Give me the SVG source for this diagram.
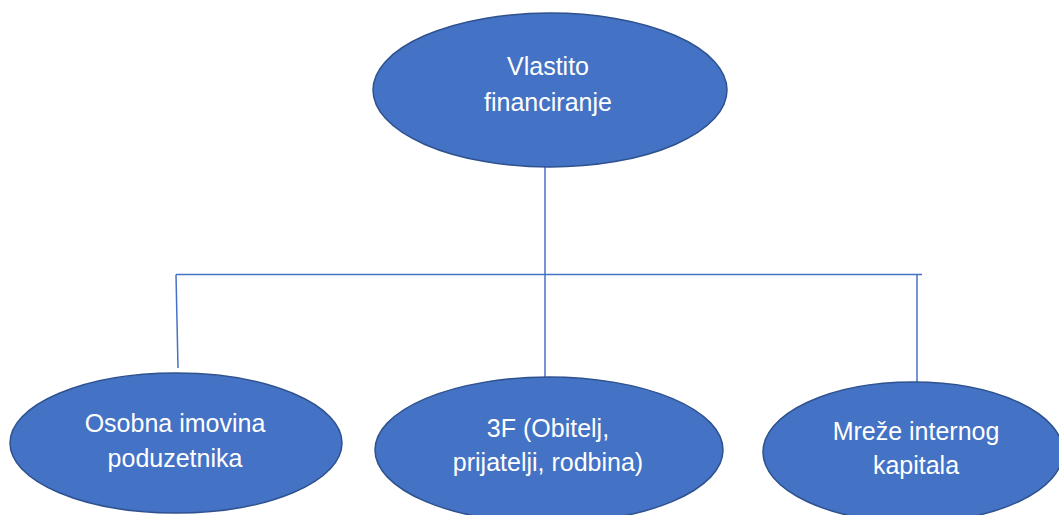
<svg xmlns="http://www.w3.org/2000/svg" width="1059" height="515" viewBox="0 0 1059 515">
<style>
.node{fill:#4472C4;stroke:#2F528F;stroke-width:1.5}
.lbl{fill:#FFFFFF;font-family:"Liberation Sans","Open Sans",sans-serif;font-size:25px;text-anchor:middle}
.conn{stroke:#4472C4;stroke-width:1.5;fill:none}
</style>
<rect width="1059" height="515" fill="#FFFFFF"/>
<g id="connectors">
<line class="conn" x1="545" y1="167" x2="545" y2="378"/>
<line class="conn" x1="176" y1="274.5" x2="922" y2="274.5"/>
<line class="conn" x1="176" y1="274.5" x2="178" y2="368"/>
<line class="conn" x1="917" y1="275" x2="917" y2="382"/>
</g>
<g id="node-root">
<ellipse class="node" cx="550" cy="90" rx="177" ry="77"/>
<text class="lbl" x="548" y="75">Vlastito</text>
<text class="lbl" x="548" y="111">financiranje</text>
</g>
<g id="node-osobna">
<ellipse class="node" cx="176" cy="443" rx="166" ry="70"/>
<text class="lbl" x="175" y="432">Osobna imovina</text>
<text class="lbl" x="175" y="467">poduzetnika</text>
</g>
<g id="node-3f">
<ellipse class="node" cx="549" cy="450" rx="174" ry="73"/>
<text class="lbl" x="548" y="437">3F (Obitelj,</text>
<text class="lbl" x="548" y="471">prijatelji, rodbina)</text>
</g>
<g id="node-mreze">
<ellipse class="node" cx="913" cy="452" rx="150" ry="70"/>
<text class="lbl" x="916" y="440">Mreže internog</text>
<text class="lbl" x="916" y="474">kapitala</text>
</g>
</svg>
